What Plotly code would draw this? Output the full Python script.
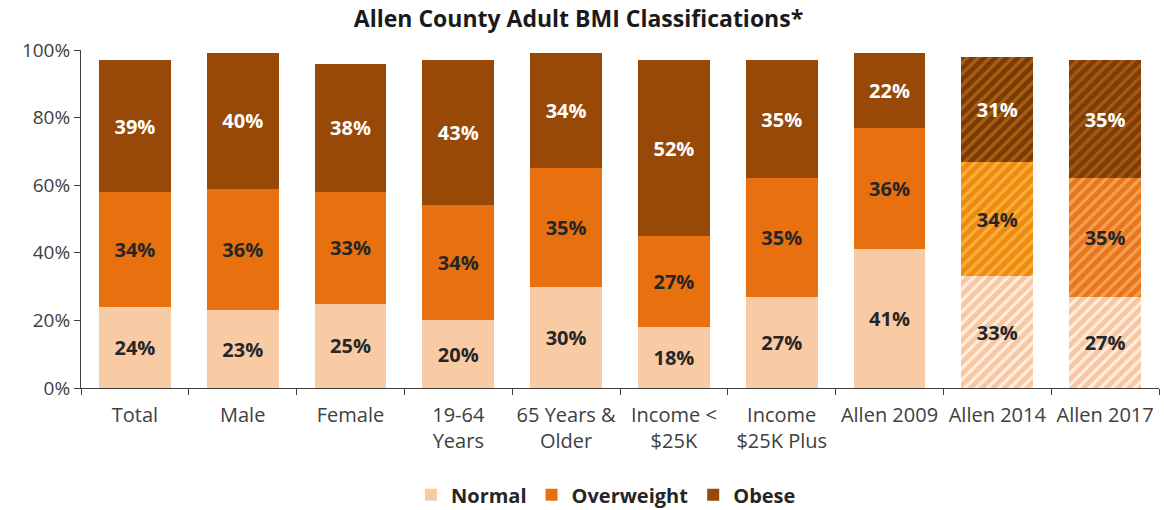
import plotly.graph_objects as go

categories = ["Total", "Male", "Female", "19-64<br>Years", "65 Years &amp;<br>Older",
              "Income &lt;<br>$25K", "Income<br>$25K Plus", "Allen 2009", "Allen 2014", "Allen 2017"]
normal = [24, 23, 25, 20, 30, 18, 27, 41, 33, 27]
overweight = [34, 36, 33, 34, 35, 27, 35, 36, 34, 35]
obese = [39, 40, 38, 43, 34, 52, 35, 22, 31, 35]
hatched = [False]*8 + [True, True]

# name, values, solid colour, hatched base colours (2014, 2017), stripe colours, label colour
series = [
    ("Normal", normal, "#F9CBA5", ["#F8C6A0", "#F8C6A0"], ["#FEEEE0", "#FEEEE0"], "#262626"),
    ("Overweight", overweight, "#E8700F", ["#EF8A0E", "#E8761A"], ["#F9AE3E", "#F4A055"], "#262626"),
    ("Obese", obese, "#984807", ["#7A3A06", "#7E3C06"], ["#A8600F", "#A45A10"], "#FFFFFF"),
]

solid_idx = [i for i, h in enumerate(hatched) if not h]
hatch_idx = [i for i, h in enumerate(hatched) if h]

LABEL_FONT = "Open Sans"

fig = go.Figure()
for name, vals, solid, hbase, hstripe, tcol in series:
    fig.add_trace(go.Bar(
        name=name, legendgroup=name,
        x=[categories[i] for i in solid_idx], y=[vals[i] for i in solid_idx],
        text=[f"{vals[i]}%" for i in solid_idx], textposition="inside", insidetextanchor="middle",
        textfont=dict(family=LABEL_FONT, size=20, color=tcol, weight="bold"),
        marker=dict(color=solid, line=dict(width=0)),
        width=0.667,
    ))
    for k, i in enumerate(hatch_idx):
        fig.add_trace(go.Bar(
            name=name, legendgroup=name, showlegend=False,
            x=[categories[i]], y=[vals[i]],
            text=[f"{vals[i]}%"], textposition="inside", insidetextanchor="middle",
            textfont=dict(family=LABEL_FONT, size=20, color=tcol, weight="bold"),
            marker=dict(color=hbase[k], line=dict(width=0),
                        pattern=dict(shape="/", fgcolor=hstripe[k], bgcolor=hbase[k],
                                     fgopacity=1, size=8, solidity=0.4, fillmode="replace")),
            width=0.667,
        ))

fig.update_layout(
    barmode="stack",
    width=1164, height=510,
    margin=dict(l=81, r=5, t=50, b=122, autoexpand=False),
    paper_bgcolor="white", plot_bgcolor="white",
    title=dict(text="<b>Allen County Adult BMI Classifications*</b>", x=0.497, xanchor="center",
               y=0.963, yanchor="middle",
               font=dict(family=LABEL_FONT, size=23, color="#1a1a1a")),
    font=dict(family=LABEL_FONT, size=20, color="#333333"),
    legend=dict(orientation="h", x=0.487, xanchor="center", yref="container", y=0.03, yanchor="middle",
                font=dict(size=20, color="#262626", weight="bold"), traceorder="normal",
                itemwidth=30),
    showlegend=True,
    uniformtext=dict(mode="show", minsize=10),
)
fig.update_yaxes(range=[0, 100], tickvals=[0, 20, 40, 60, 80, 100],
                 ticktext=["0%", "20%", "40%", "60%", "80%", "100%"],
                 showgrid=False, showline=True, linecolor="#404040", linewidth=1,
                 ticks="outside", ticklen=6, tickcolor="#404040", zeroline=False,
                 tickfont=dict(size=19, color="#404040"))
fig.update_xaxes(showline=True, linecolor="#404040", linewidth=1, ticks="outside",
                 tickson="boundaries", ticklen=6, tickcolor="#404040",
                 ticklabelstandoff=9,
                 tickfont=dict(size=20, color="#404040"), tickangle=0)

# remove the browser's default body margin so the figure fills the window exactly
fig.write_html("out.html", config={"displayModeBar": False},
               post_script="document.body.style.margin='0';")
